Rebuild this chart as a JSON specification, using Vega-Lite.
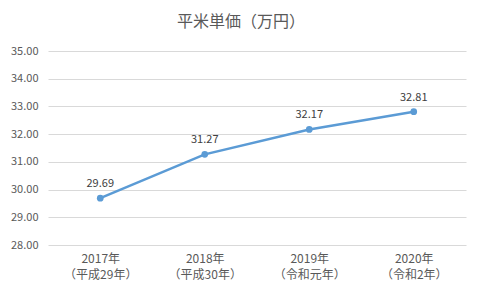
{
  "$schema": "https://vega.github.io/schema/vega-lite/v6.json",
  "width": 418,
  "height": 194,
  "autosize": {"type": "none"},
  "padding": {"left": 48, "top": 51, "right": 15, "bottom": 48},
  "background": "white",
  "title": {
    "text": "平米単価（万円）",
    "anchor": "middle",
    "dx": -16,
    "offset": 15,
    "fontSize": 16,
    "font": "Noto Sans CJK JP",
    "fontWeight": "normal",
    "color": "#595959"
  },
  "config": {
    "view": {"stroke": null},
    "font": "Noto Sans CJK JP"
  },
  "data": {
    "values": [
      {"year": "2017年|（平成29年）", "value": 29.69},
      {"year": "2018年|（平成30年）", "value": 31.27},
      {"year": "2019年|（令和元年）", "value": 32.17},
      {"year": "2020年|（令和2年）", "value": 32.81}
    ]
  },
  "encoding": {
    "x": {
      "field": "year",
      "type": "nominal",
      "sort": null,
      "scale": {"paddingInner": 0, "paddingOuter": 0},
      "axis": {
        "title": null,
        "labelAngle": 0,
        "domain": false,
        "ticks": false,
        "labelPadding": 8,
        "labelFontSize": 12,
        "labelColor": "#595959",
        "labelLineHeight": 16,
        "labelExpr": "split(datum.value, '|')"
      }
    },
    "y": {
      "field": "value",
      "type": "quantitative",
      "scale": {"domain": [28, 35], "nice": false, "zero": false},
      "axis": {
        "title": null,
        "values": [28, 29, 30, 31, 32, 33, 34, 35],
        "format": ".2f",
        "domain": false,
        "ticks": false,
        "labelPadding": 10,
        "labelFontSize": 11,
        "labelColor": "#595959",
        "gridColor": "#d9d9d9",
        "gridWidth": 1
      }
    }
  },
  "layer": [
    {"mark": {"type": "line", "color": "#5b9bd5", "strokeWidth": 2.5}},
    {"mark": {"type": "point", "filled": true, "color": "#5b9bd5", "size": 45, "opacity": 1}},
    {
      "mark": {"type": "text", "dy": -14, "fontSize": 11, "color": "#404040"},
      "encoding": {"text": {"field": "value", "type": "quantitative", "format": ".2f"}}
    }
  ]
}
